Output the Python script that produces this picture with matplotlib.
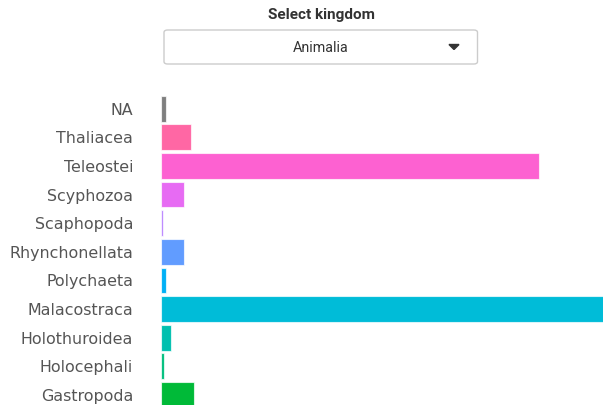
import matplotlib
matplotlib.use("Agg")
import matplotlib.pyplot as plt
from matplotlib.patches import FancyBboxPatch, Polygon

W, H = 603, 405

classes = ["NA", "Thaliacea", "Teleostei", "Scyphozoa", "Scaphopoda",
           "Rhynchonellata", "Polychaeta", "Malacostraca", "Holothuroidea",
           "Holocephali", "Gastropoda"]
counts = [14, 91, 1135, 68, 7, 68, 15, 1500, 30, 8, 99]
colors = ["#7F7F7F", "#FF67A4", "#FD61D1", "#E76BF3", "#B983FF",
          "#619CFF", "#00B0F6", "#00BCD8", "#00C0AF", "#00BF7D", "#00BA38"]

kingdom = "Animalia"


def fx(px):
    return px / W


def fy(py):
    return 1 - py / H


fig = plt.figure(figsize=(W / 100, H / 100), dpi=100)
fig.patch.set_facecolor("white")

# dropdown widget on top
fig.text(fx(321), fy(14.5), "Select kingdom", ha="center", va="center",
         fontsize=11, fontweight="bold", color="#333333", family="Roboto")
box = FancyBboxPatch((fx(164), fy(64)), fx(477.5) - fx(164), fy(30) - fy(64),
                     boxstyle="round,pad=0,rounding_size=0.006",
                     transform=fig.transFigure, facecolor="white",
                     edgecolor="#CCCCCC", linewidth=1)
fig.patches.append(box)
fig.text(fx(321), fy(48), kingdom, ha="center", va="center",
         fontsize=10.3, color="#333333", family="Roboto")
tri = Polygon([(fx(449), fy(44.5)), (fx(459), fy(44.5)), (fx(454), fy(49.5))],
              closed=True, transform=fig.transFigure, color="#333333")
fig.patches.append(tri)

# bar chart
pitch = 28.63
top_px = 108.7 - pitch / 2
ax = fig.add_axes([fx(161), 0, 1 - fx(161), fy(top_px)])
pos = list(range(len(classes)))
ax.barh(pos, counts, height=0.9, color=colors,
        edgecolor=(1, 1, 1, 0.7), linewidth=0.8)
ax.set_xlim(0, (W - 161) * 3)
ax.set_ylim((H - 108.7) / pitch, -0.5)
ax.set_yticks(pos)
ax.set_yticklabels(classes, fontsize=11.4, color="#555555", family="DejaVu Sans")
for lbl in ax.get_yticklabels():
    lbl.set_va("center_baseline")
ax.tick_params(axis="y", length=0, pad=20)
ax.set_xticks([])
for s in ax.spines.values():
    s.set_visible(False)

fig.savefig("out.png", dpi=100)
